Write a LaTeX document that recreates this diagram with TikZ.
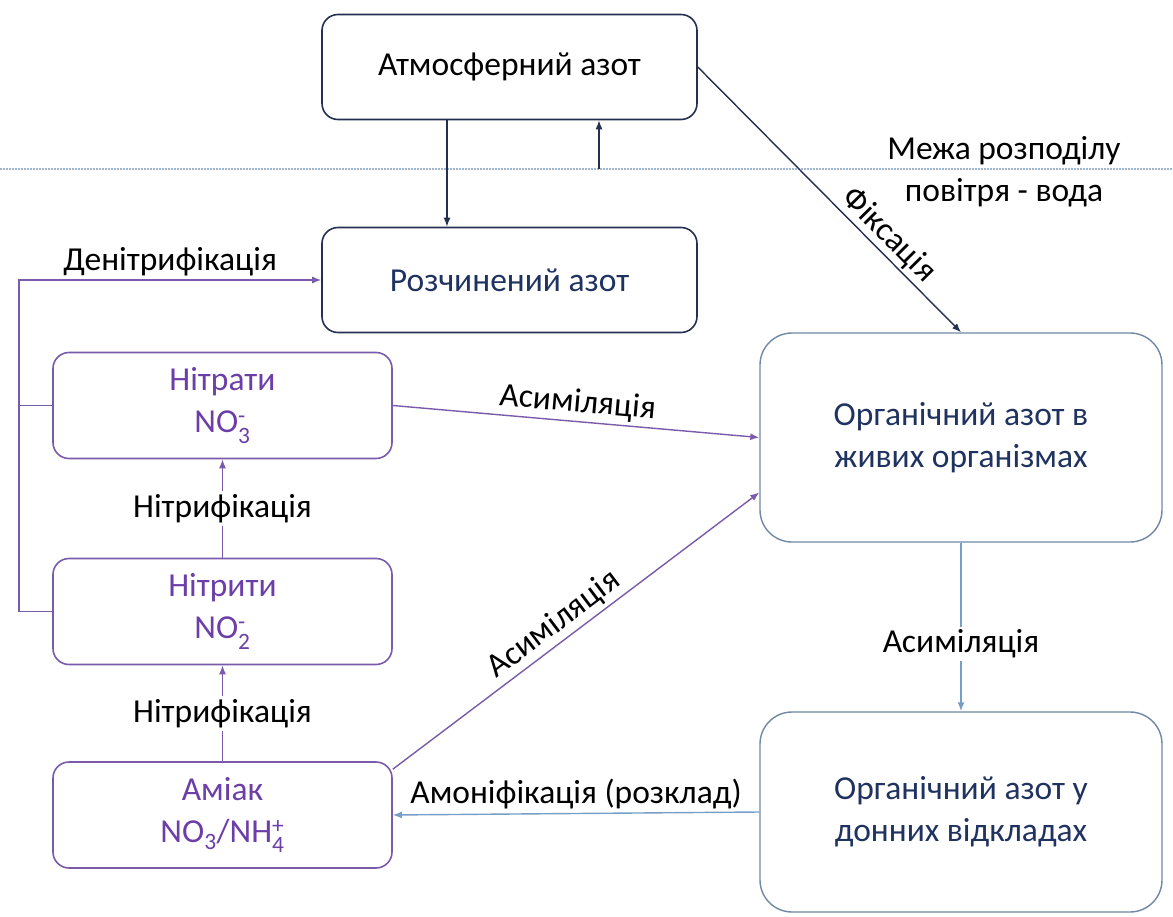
\documentclass[tikz,border=0pt]{standalone}
\usepackage{amsmath}
\usepackage{fontspec}
\setmainfont{Carlito}
\usetikzlibrary{arrows.meta,positioning}
\definecolor{AirNavy}{RGB}{35, 48, 82}
\definecolor{WaterText}{RGB}{31, 50, 96}
\definecolor{SpeciesPurple}{RGB}{122, 90, 170}
\definecolor{SpeciesText}{RGB}{108, 62, 168}
\definecolor{OrganicGrey}{RGB}{112, 136, 166}
\definecolor{OrganicBlue}{RGB}{118, 158, 200}
\definecolor{SurfaceGrey}{RGB}{160, 182, 208}

\begin{document}
\begin{tikzpicture}[x=1pt, y=-1pt, font=\fontsize{33.5}{42}\selectfont,
    airbox/.style={draw=AirNavy, line width=1.6pt, rounded corners=16pt,
      minimum width=375pt, minimum height=105pt, inner sep=0pt},
    specbox/.style={draw=SpeciesPurple, line width=1.6pt, rounded corners=16pt,
      minimum width=339pt, minimum height=106pt, inner sep=0pt,
      align=center, text=SpeciesText},
    orgbox/.style={draw=OrganicGrey, line width=1.4pt, rounded corners=32pt,
      minimum width=402pt, inner sep=0pt, align=center, text=WaterText},
    airflow/.style={draw=AirNavy, line width=1.4pt, -{Latex[length=9pt,width=7pt]}},
    specflow/.style={draw=SpeciesPurple, line width=1.4pt, -{Latex[length=9pt,width=7pt]}},
    orgflow/.style={draw=OrganicBlue, line width=1.4pt, -{Latex[length=9pt,width=7pt]}},
    cutlabel/.style={fill=white, inner sep=3pt}]
    \useasboundingbox (0,0) rectangle (1173,917);

    % air - water boundary
    \draw[SurfaceGrey, line width=2pt, dash pattern=on 1.5pt off 1.5pt] (0,169) -- (1173,169);
    \coordinate (surface) at (599,169);
    \node[align=center] (boundary) at (1004,172) {Межа розподілу\\повітря - вода};

    % nitrogen pools
    \node[airbox] (atmos) at (509.5,67) {Атмосферний азот};
    \node[airbox, text=WaterText] (dissolved) at (509.5,280) {Розчинений азот};
    \node[specbox] (nitrate) at (222.5,405.5) {Нітрати\\NO$_{\text{3}}^{\text{-}}$};
    \node[specbox] (nitrite) at (222.5,611.5) {Нітрити\\NO$_{\text{2}}^{\text{-}}$};
    \node[specbox] (ammonia) at (222.5,815) {Аміак\\NO$_{\text{3}}$/NH$_{\text{4}}^{\text{+}}$};
    \node[orgbox, minimum height=209pt] (organic) at (961,437.5) {Органічний азот в\\живих організмах};
    \node[orgbox, minimum height=200pt] (sediment) at (961,812) {Органічний азот у\\донних відкладах};

    % exchange with the air
    \draw[airflow] ([xshift=-62.5pt]atmos.south) -- ([xshift=-62.5pt]dissolved.north);
    \draw[airflow] (surface) -- (surface |- atmos.south);
    \draw[airflow] (atmos.east) -- node[sloped, above, pos=0.68, inner sep=2pt] {Фіксація} (organic.north);

    % nitrification and denitrification
    \coordinate (denit) at (19,611.5);
    \draw[specflow] (nitrite.west) -- (denit) |- node[above, pos=0.75] {Денітрифікація} (dissolved.west);
    \draw[SpeciesPurple, line width=1.4pt] (nitrate.west) -- (nitrate.west -| denit);
    \draw[specflow] (nitrite.north) -- node[cutlabel] {Нітрифікація} (nitrate.south);
    \draw[specflow] (ammonia.north) -- node[cutlabel] {Нітрифікація} (nitrite.south);

    % uptake and decay
    \draw[specflow] (nitrate.east) -- node[sloped, above] {Асиміляція} (organic.west);
    \draw[specflow] ([yshift=-8pt]ammonia.north east) -- node[sloped, above, pos=0.47] {Асиміляція} ([yshift=-55pt]organic.west);
    \draw[orgflow] (organic.south) -- node[cutlabel, pos=0.6] {Асиміляція} (sediment.north);
    \draw[orgflow] (sediment.west) -- node[above] {Амоніфікація (розклад)} (ammonia.east);
  \end{tikzpicture}
\end{document}
